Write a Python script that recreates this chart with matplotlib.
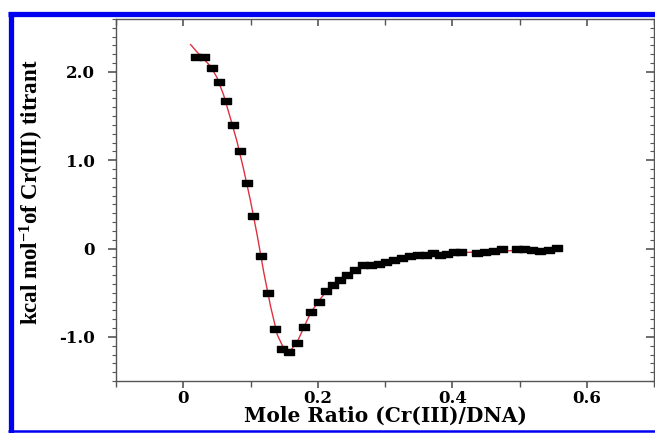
import matplotlib
matplotlib.use("Agg")
import matplotlib.pyplot as plt
from matplotlib.lines import Line2D
from matplotlib.ticker import MultipleLocator, FixedLocator, FixedFormatter

# ---- data ----
ratio = [0.0193, 0.0311, 0.0422, 0.0526, 0.0630, 0.0733, 0.0837, 0.0941, 0.1044,
         0.1156, 0.1267, 0.1370, 0.1467, 0.1578, 0.1689, 0.1793, 0.1904, 0.2015,
         0.2119, 0.2230, 0.2333, 0.2437, 0.2548, 0.2667, 0.2793, 0.2904, 0.3022,
         0.3141, 0.3259, 0.3378, 0.3496, 0.3607, 0.3719, 0.3822, 0.3926, 0.4030,
         0.4133, 0.4370, 0.4489, 0.4622, 0.4741, 0.4963, 0.5067, 0.5185, 0.5304,
         0.5437, 0.5556]
heat = [2.168, 2.168, 2.049, 1.890, 1.674, 1.395, 1.106, 0.742, 0.373,
        -0.082, -0.502, -0.911, -1.133, -1.167, -1.065, -0.883, -0.713, -0.605,
        -0.485, -0.417, -0.355, -0.298, -0.241, -0.190, -0.182, -0.170, -0.152,
        -0.125, -0.107, -0.088, -0.076, -0.068, -0.050, -0.076, -0.065, -0.039,
        -0.039, -0.050, -0.039, -0.031, -0.005, 0.000, 0.000, -0.011, -0.031,
        -0.011, 0.007]

fit_x = [0.011, 0.02, 0.03, 0.04, 0.05, 0.06, 0.07, 0.08, 0.09, 0.10, 0.11, 0.12,
         0.13, 0.14, 0.15, 0.155, 0.16, 0.17, 0.18, 0.19, 0.20, 0.21, 0.22, 0.23,
         0.24, 0.25, 0.26, 0.28, 0.30, 0.33, 0.36, 0.40, 0.45, 0.50, 0.56]
fit_y = [2.31, 2.23, 2.15, 2.07, 1.94, 1.74, 1.48, 1.21, 0.89, 0.54, 0.15, -0.28,
         -0.66, -0.98, -1.14, -1.17, -1.15, -1.05, -0.88, -0.72, -0.61, -0.51, -0.43,
         -0.37, -0.32, -0.27, -0.23, -0.18, -0.14, -0.10, -0.07, -0.05, -0.035,
         -0.02, -0.01]

xticks = [0, 0.2, 0.4, 0.6]
xticklabels = ["0", "0.2", "0.4", "0.6"]
yticks = [-1.0, 0, 1.0, 2.0]
yticklabels = ["-1.0", "0", "1.0", "2.0"]

plt.rcParams['font.family'] = ['DejaVu Serif']
plt.rcParams['font.weight'] = 'bold'
plt.rcParams['mathtext.fontset'] = 'custom'
plt.rcParams['mathtext.rm'] = 'Liberation Serif:bold'
plt.rcParams['mathtext.default'] = 'rm'

fig = plt.figure(figsize=(6.55, 4.33), dpi=100)
W, H = 655, 433
ax = fig.add_axes([116 / W, 1 - 381 / H, (654 - 116) / W, (381 - 19) / H])

ax.plot(fit_x, fit_y, color='#e0303f', lw=1.0, zorder=2)
rect = [(-1, -0.5), (1, -0.5), (1, 0.5), (-1, 0.5), (-1, -0.5)]
ax.plot(ratio, heat, linestyle='none', marker=rect, markersize=7.5,
        color='black', zorder=3)

ax.set_xlim(-0.1, 0.7)
ax.set_ylim(-1.5, 2.6)

ax.xaxis.set_major_locator(FixedLocator(xticks))
ax.xaxis.set_major_formatter(FixedFormatter(xticklabels))
ax.xaxis.set_minor_locator(MultipleLocator(0.1))
ax.yaxis.set_major_locator(FixedLocator(yticks))
ax.yaxis.set_major_formatter(FixedFormatter(yticklabels))
ax.yaxis.set_minor_locator(MultipleLocator(0.1))

spc = '#555555'
for s in ax.spines.values():
    s.set_color(spc)
    s.set_linewidth(1.0)

ax.tick_params(axis='both', which='both', colors=spc, labelcolor='black',
               labelsize=12)
ax.tick_params(axis='x', which='major', direction='out', length=5, width=1.2,
               top=True, pad=1.5)
ax.tick_params(axis='x', which='minor', direction='out', length=4, width=1.0,
               top=True)
ax.tick_params(axis='y', which='major', direction='out', length=6, width=1.2,
               right=True, pad=9)
ax.tick_params(axis='y', which='minor', direction='out', length=3, width=0.8,
               right=True)
# inward ticks on top and right
for t in ax.xaxis.get_major_ticks() + ax.xaxis.get_minor_ticks():
    t.tick2line.set_marker(3)  # TICKDOWN
for t in ax.yaxis.get_major_ticks() + ax.yaxis.get_minor_ticks():
    t.tick2line.set_marker(0)  # TICKLEFT

for lab in ax.get_xticklabels() + ax.get_yticklabels():
    lab.set_fontweight('bold')

ax.set_xlabel("Mole Ratio (Cr(III)/DNA)", fontsize=14.5, fontweight='bold',
              va='top')
ax.xaxis.set_label_coords(0.5, (381 - 406) / 362)
ax.set_ylabel(r"kcal mol$^{-1}$of Cr(III) titrant", fontsize=16.5,
              fontweight='bold', family='Liberation Serif')
ax.yaxis.set_label_coords((46 - 116) / 538, (381 - 192) / 362)

# blue frame
blue = '#0000f0'
fig.add_artist(Line2D([8 / W, 1], [1 - 14.2 / H, 1 - 14.2 / H], color=blue,
                      lw=3.8, transform=fig.transFigure, solid_capstyle='butt'))
fig.add_artist(Line2D([10.6 / W, 10.6 / W], [1 - 12 / H, 0], color=blue,
                      lw=3.8, transform=fig.transFigure, solid_capstyle='butt'))
fig.add_artist(Line2D([8 / W, 1], [1 - 431 / H, 1 - 431 / H], color=blue,
                      lw=1.8, transform=fig.transFigure, solid_capstyle='butt'))

fig.savefig("out.png", dpi=100)
